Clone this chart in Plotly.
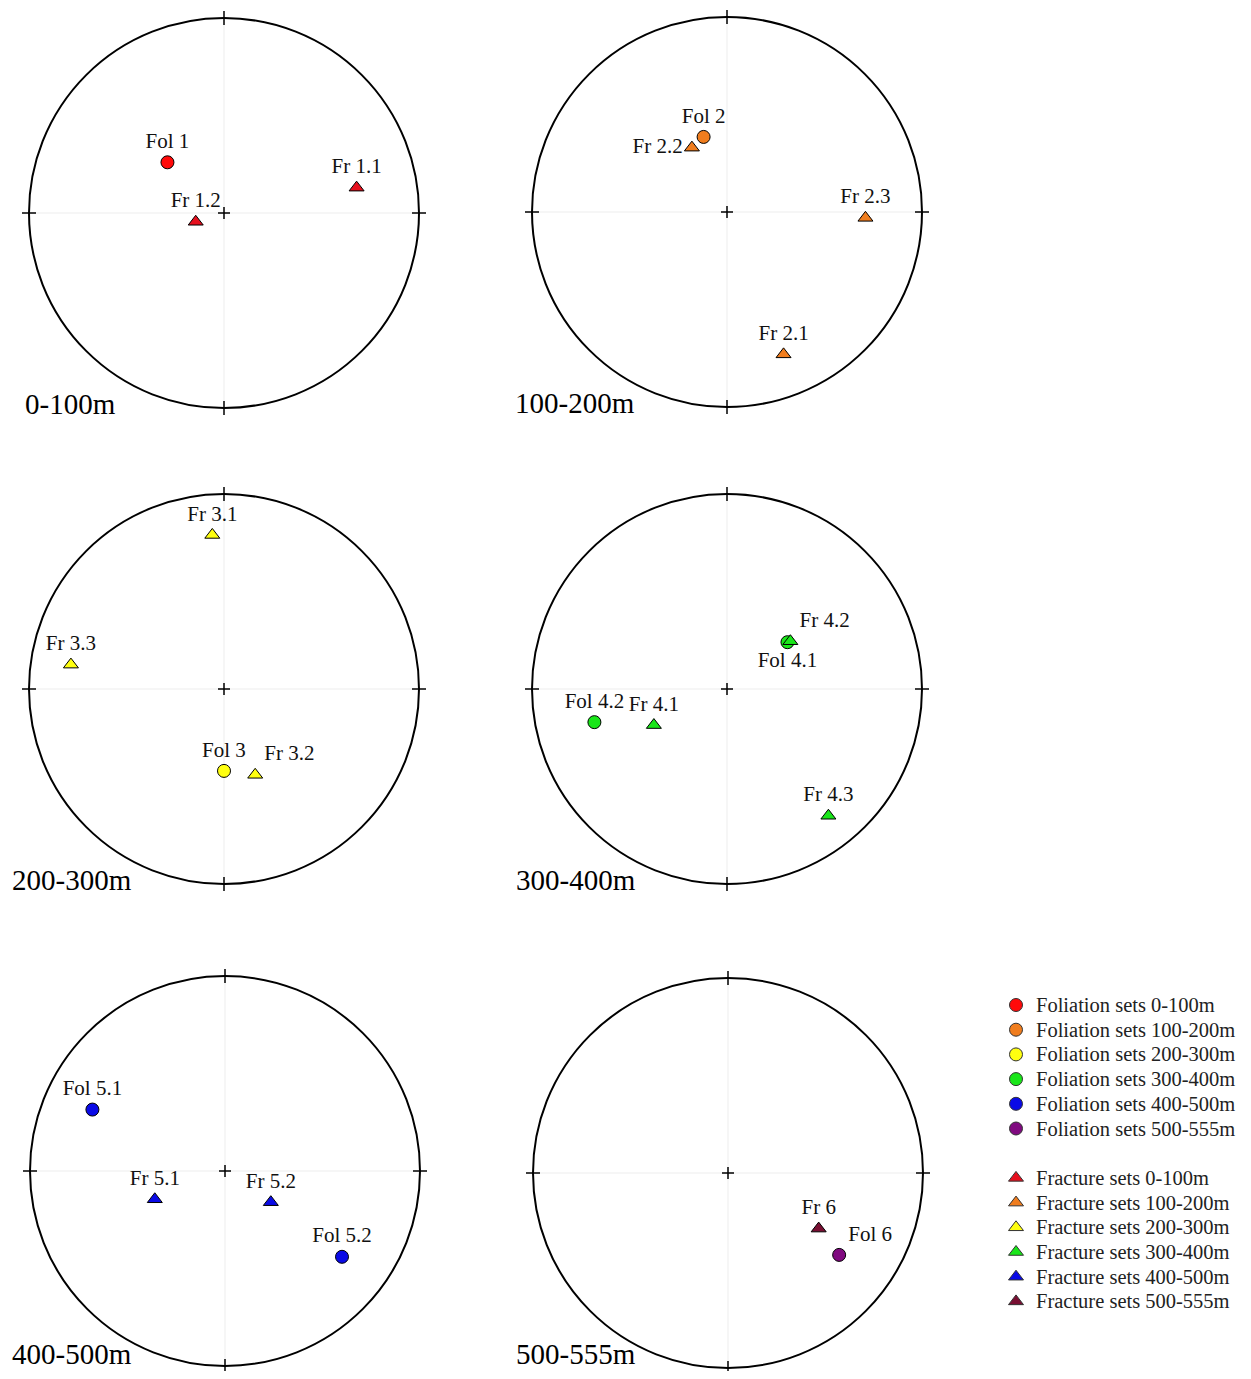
import plotly.graph_objects as go

# ---------------- data ----------------
depth_ranges = ["0-100m", "100-200m", "200-300m", "300-400m", "400-500m", "500-555m"]

# pole positions on the (unit-radius) stereonet: x = east, y = north
fol_labels = [["Fol 1"], ["Fol 2"], ["Fol 3"], ["Fol 4.1", "Fol 4.2"], ["Fol 5.1", "Fol 5.2"], ["Fol 6"]]
fol_x = [[-0.29], [-0.12], [0.00], [0.31, -0.68], [-0.68, 0.60], [0.57]]
fol_y = [[0.26], [0.385], [-0.42], [0.24, -0.17], [0.315, -0.44], [-0.42]]

fr_labels = [["Fr 1.1", "Fr 1.2"], ["Fr 2.1", "Fr 2.2", "Fr 2.3"], ["Fr 3.1", "Fr 3.2", "Fr 3.3"],
             ["Fr 4.1", "Fr 4.2", "Fr 4.3"], ["Fr 5.1", "Fr 5.2"], ["Fr 6"]]
fr_x = [[0.68, -0.145], [0.29, -0.18, 0.71], [-0.06, 0.16, -0.785], [-0.375, 0.325, 0.52], [-0.36, 0.235], [0.465]]
fr_y = [[0.13, -0.045], [-0.73, 0.33, -0.03], [0.79, -0.44, 0.125], [-0.185, 0.245, -0.65], [-0.145, -0.16], [-0.285]]

fol_colors = ["#ff0a0a", "#f07d1e", "#ffff10", "#19e619", "#0a0ae6", "#800a80"]
fr_colors = ["#e6101e", "#f07d1e", "#ffff10", "#19e619", "#0a0ae6", "#780f32"]

legend_fol = ["Foliation sets " + r for r in depth_ranges]
legend_fr = ["Fracture sets " + r for r in depth_ranges]

# ---------------- layout / style ----------------
PAGE_MARGIN = 8                      # default body margin of the html page
W, H = 1251 - 2 * PAGE_MARGIN, 1379 - 2 * PAGE_MARGIN
R = 195.0           # circle radius in px
S = 212.0           # half-size of each panel domain in px
centers_page = [(224, 213), (727, 212), (224, 689), (727, 689), (225, 1171), (728, 1173)]
centers = [(cx - PAGE_MARGIN, cy - PAGE_MARGIN) for cx, cy in centers_page]
range_label_dx = [-201, -214, -214, -213, -215, -214]   # px from centre
range_label_dy = 191
RANGE_FONT = 29
SERIF = "Liberation Serif"

# label placement per point (style)
fol_pos = [["top center"], ["top center"], ["top center"], ["bottom center", "top center"],
           ["top center", "top center"], ["top right"]]
fr_pos = [["top center", "top center"], ["top center", "middle left", "top center"],
          ["top center", "top right", "top center"], ["top center", "top right", "top center"],
          ["top center", "top center"], ["top center"]]

fig = go.Figure()
shapes = []
annotations = []

for i, (cx, cy) in enumerate(centers):
    n = i + 1
    xa = "xaxis" if n == 1 else f"xaxis{n}"
    ya = "yaxis" if n == 1 else f"yaxis{n}"
    xr = "x" if n == 1 else f"x{n}"
    yr = "y" if n == 1 else f"y{n}"
    left, right = max(0.0, cx - S), min(float(W), cx + S)
    top, bottom = max(0.0, cy - S), min(float(H), cy + S)
    fig.layout[xa] = dict(domain=[left / W, right / W], range=[(left - cx) / R, (right - cx) / R],
                          visible=False, fixedrange=True, anchor=yr)
    fig.layout[ya] = dict(domain=[1 - bottom / H, 1 - top / H], range=[(cy - bottom) / R, (cy - top) / R],
                          visible=False, fixedrange=True, anchor=xr)

    # faint diameters
    shapes.append(dict(type="line", xref=xr, yref=yr, x0=-1, x1=1, y0=0, y1=0,
                       line=dict(color="#ededed", width=1), layer="below"))
    shapes.append(dict(type="line", xref=xr, yref=yr, x0=0, x1=0, y0=-1, y1=1,
                       line=dict(color="#ededed", width=1), layer="below"))
    # primitive circle
    shapes.append(dict(type="circle", xref=xr, yref=yr, x0=-1, x1=1, y0=-1, y1=1,
                       line=dict(color="black", width=2)))
    # N/E/S/W ticks
    t = 7 / R
    shapes += [
        dict(type="line", xref=xr, yref=yr, x0=0, x1=0, y0=1 - t, y1=1 + t, line=dict(color="black", width=1.5)),
        dict(type="line", xref=xr, yref=yr, x0=0, x1=0, y0=-1 - t, y1=-1 + t, line=dict(color="black", width=1.5)),
        dict(type="line", xref=xr, yref=yr, x0=1 - t, x1=1 + t, y0=0, y1=0, line=dict(color="black", width=1.5)),
        dict(type="line", xref=xr, yref=yr, x0=-1 - t, x1=-1 + t, y0=0, y1=0, line=dict(color="black", width=1.5)),
    ]
    # centre cross
    c = 6 / R
    shapes += [
        dict(type="line", xref=xr, yref=yr, x0=-c, x1=c, y0=0, y1=0, line=dict(color="black", width=1.5)),
        dict(type="line", xref=xr, yref=yr, x0=0, x1=0, y0=-c, y1=c, line=dict(color="black", width=1.5)),
    ]
    # depth range label (paper coordinates), kept inside the figure
    ly = min(cy + range_label_dy, H - 0.6 * RANGE_FONT)
    annotations.append(dict(xref="paper", yref="paper",
                            x=(cx + range_label_dx[i]) / W, y=1 - ly / H,
                            text=depth_ranges[i], showarrow=False, xanchor="left", yanchor="middle",
                            font=dict(family=SERIF, size=RANGE_FONT, color="black")))

    # foliations (circles)
    fig.add_trace(go.Scatter(
        x=fol_x[i], y=fol_y[i], xaxis=xr, yaxis=yr, mode="markers+text",
        text=fol_labels[i], textposition=fol_pos[i],
        textfont=dict(family=SERIF, size=21, color="#111"),
        marker=dict(symbol="circle", size=13, color=fol_colors[i], line=dict(color="black", width=1)),
        name=legend_fol[i], showlegend=False, cliponaxis=False))
    # fractures (triangles)
    fig.add_trace(go.Scatter(
        x=fr_x[i], y=fr_y[i], xaxis=xr, yaxis=yr, mode="markers+text",
        text=fr_labels[i], textposition=fr_pos[i],
        textfont=dict(family=SERIF, size=21, color="#111"),
        marker=dict(symbol="triangle-up", size=13, color=fr_colors[i], line=dict(color="black", width=1)),
        name=legend_fr[i], showlegend=False, cliponaxis=False))

# ---------------- manual legend ----------------
row0, drow = 1005.0 - PAGE_MARGIN, 24.7
mark_x, text_x = 1016 - PAGE_MARGIN, 1034 - PAGE_MARGIN
leg_rows_fol = list(range(6))
leg_rows_fr = [r + 7 for r in range(6)]
fig.layout["xaxis7"] = dict(domain=[980 / W, 1.0], range=[980, W], visible=False, fixedrange=True, anchor="y7")
fig.layout["yaxis7"] = dict(domain=[1 - (row0 + 12.5 * drow) / H, 1 - (row0 - 0.5 * drow) / H],
                            range=[12.5, -0.5], visible=False, fixedrange=True, anchor="x7")
fig.add_trace(go.Scatter(
    x=[mark_x] * 6, y=leg_rows_fol, xaxis="x7", yaxis="y7", mode="markers",
    marker=dict(symbol="circle", size=13, color=fol_colors, line=dict(color="#333", width=1)),
    showlegend=False, hoverinfo="skip", cliponaxis=False))
fig.add_trace(go.Scatter(
    x=[mark_x] * 6, y=leg_rows_fr, xaxis="x7", yaxis="y7", mode="markers",
    marker=dict(symbol="triangle-up", size=13, color=fr_colors, line=dict(color="#333", width=1)),
    showlegend=False, hoverinfo="skip", cliponaxis=False))
for rows, labels in ((leg_rows_fol, legend_fol), (leg_rows_fr, legend_fr)):
    for r, lab in zip(rows, labels):
        annotations.append(dict(xref="x7", yref="y7", x=text_x, y=r, text=lab, showarrow=False,
                                xanchor="left", yanchor="middle",
                                font=dict(family=SERIF, size=20.5, color="#222")))

fig.update_layout(
    width=W, height=H, margin=dict(l=0, r=0, t=0, b=0),
    paper_bgcolor="white", plot_bgcolor="white",
    shapes=shapes, annotations=annotations, showlegend=False,
)

fig.write_html("out.html")
